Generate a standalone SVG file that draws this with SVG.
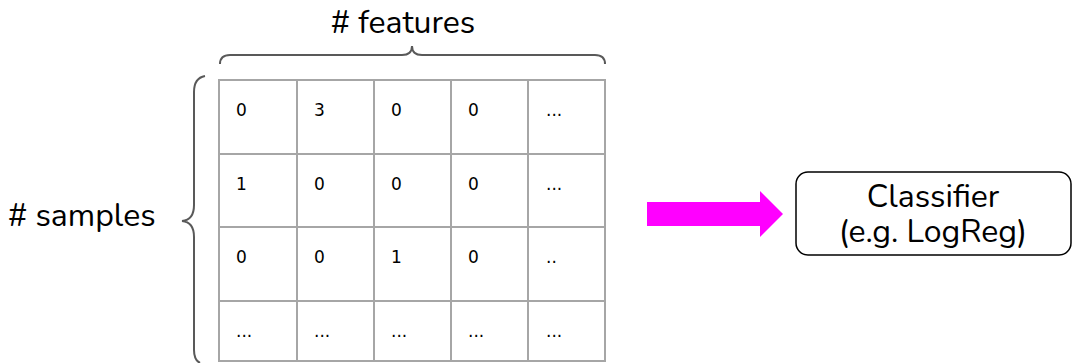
<svg xmlns="http://www.w3.org/2000/svg" width="1073" height="363" viewBox="0 0 1073 363">
<style>
.lbl{font-family:"Nunito","Open Sans","Noto Sans",sans-serif;font-size:32px;fill:#000}
.cell{font-family:"DejaVu Sans",sans-serif;font-size:17px;fill:#000}
.grid{stroke:#a6a6a6;stroke-width:2;fill:none}
.brace{stroke:#595959;stroke-width:2;fill:none}
</style>
<rect width="1073" height="363" fill="#fff"/>
<g id="labels">
<text class="lbl" x="403" y="33" text-anchor="middle"># features</text>
<text class="lbl" x="8" y="226"># samples</text>
</g>
<g id="braces">
<path class="brace" d="M220,64 Q220,55 230,55 L402,55 Q412,55 412,46 Q412,55 422,55 L595,55 Q605,55 605,64"/>
<path class="brace" d="M205,76 Q194,78 194,92 L194,205 Q194,220 182,221 Q194,222 194,237 L194,350 Q194,360 200,363"/>
</g>
<g id="matrix">
<rect class="grid" x="219" y="80" width="386" height="281"/>
<path class="grid" d="M297,80V361M374,80V361M451,80V361M528,80V361M219,154H605M219,227H605M219,301H605"/>
<g class="cell">
<text x="236" y="116">0</text><text x="314" y="116">3</text><text x="391" y="116">0</text><text x="468" y="116">0</text><text x="546" y="116">...</text>
<text x="236" y="190">1</text><text x="314" y="190">0</text><text x="391" y="190">0</text><text x="468" y="190">0</text><text x="546" y="190">...</text>
<text x="236" y="263">0</text><text x="314" y="263">0</text><text x="391" y="263">1</text><text x="468" y="263">0</text><text x="546" y="263">..</text>
<text x="236" y="337">...</text><text x="314" y="337">...</text><text x="391" y="337">...</text><text x="468" y="337">...</text><text x="546" y="337">...</text>
</g>
</g>
<g id="connectors">
<path d="M647,202H760V191L783,214L760,237V226H647Z" fill="#ff00ff"/>
</g>
<g id="classifier">
<rect x="796" y="172" width="275" height="83" rx="12" fill="#fff" stroke="#000" stroke-width="1.5"/>
<text class="lbl" x="933" y="207" text-anchor="middle">Classifier</text>
<text class="lbl" x="933" y="242" text-anchor="middle">(e.g. LogReg)</text>
</g>
</svg>
